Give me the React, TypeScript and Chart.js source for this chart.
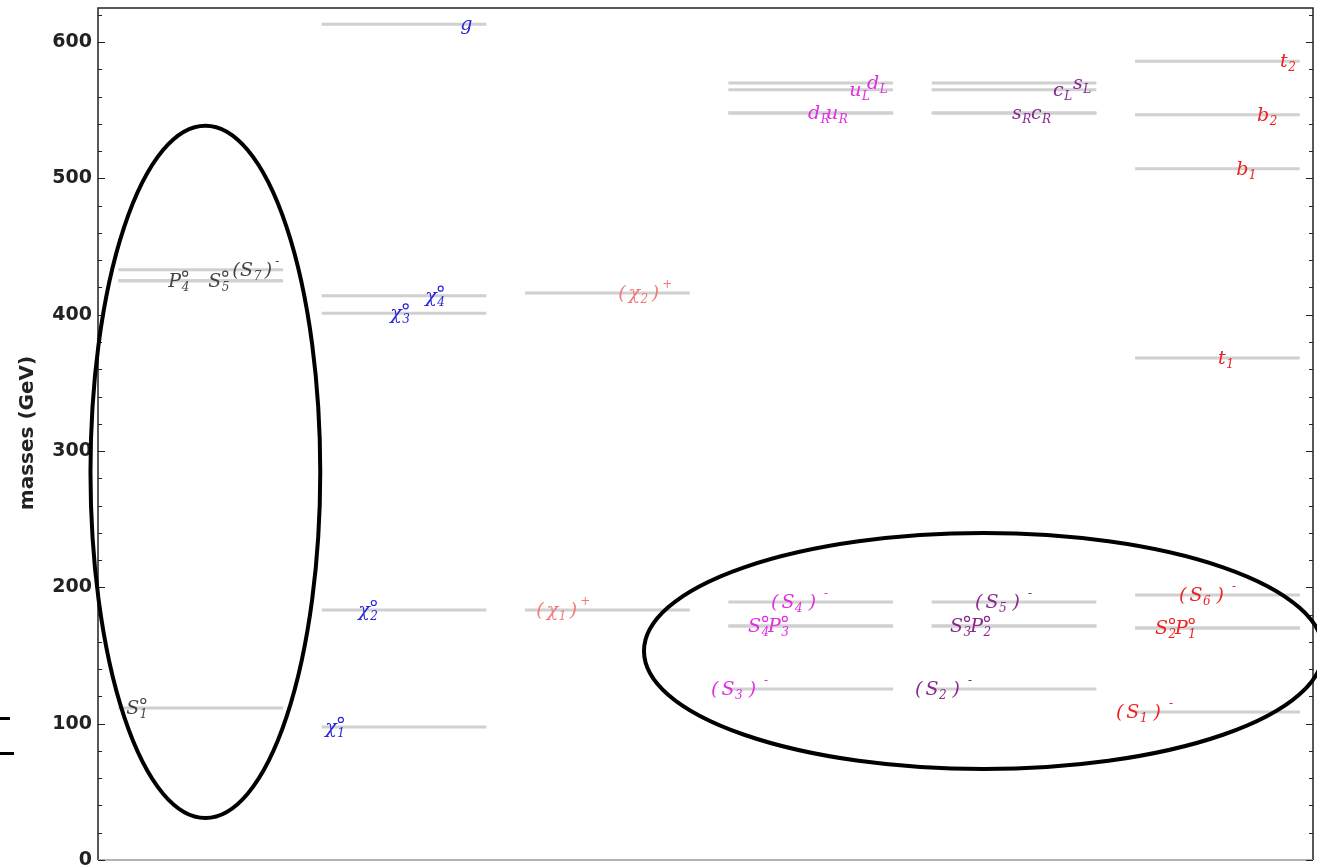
import { useEffect, useRef } from "react";
import { Chart, registerables } from "chart.js";

Chart.register(...registerables);

// ---- data (masses in GeV) ----
// column 0: neutral / charged scalars (gray)
const scalarMasses = [433, 425, 425, 111.5];
const scalarLabels = ["(S_7~)~^-", "P_4^o", "S_5^o", "S_1^o"];
// column 1: gluino + neutralinos (blue)
const neutralinoMasses = [613, 414, 401, 183.4, 97.6];
const neutralinoLabels = ["g", "χ_4^o", "χ_3^o", "χ_2^o", "χ_1^o"];
// column 2: charginos (light red)
const charginoMasses = [416, 183.4];
const charginoLabels = ["(~χ_2~)~^+", "(~χ_1~)~^+"];
// column 3: first generation squarks + scalars (magenta)
const firstGenMasses = [570, 565, 548, 548, 189.3, 171.7, 171.7, 125.5];
const firstGenLabels = ["d_L", "u_L", "d_R", "u_R", "(~S_4~~)~~~^-", "S_4^o", "P_3^o", "(~S_3~~)~~~^-"];
// column 4: second generation squarks + scalars (purple)
const secondGenMasses = [570, 565, 548, 548, 189.3, 171.7, 171.7, 125.5];
const secondGenLabels = ["s_L", "c_L", "s_R", "c_R", "(~S_5~~)~~~^-", "S_3^o", "P_2^o", "(~S_2~~)~~~^-"];
// column 5: third generation squarks + scalars (red)
const thirdGenMasses = [586, 546.6, 507, 368.3, 194.4, 170.2, 170.2, 108.6];
const thirdGenLabels = ["t_2", "b_2", "b_1", "t_1", "(~S_6~~)~~~^-", "S_2^o", "P_1^o", "(~S_1~~)~~~^-"];

const yTickValues = [0, 100, 200, 300, 400, 500, 600];

// ---- styling / placement (not data) ----
const scalarLabelPos = [0.66, 0.346, 0.542, 0.139];
const neutralinoLabelPos = [0.781, 0.609, 0.437, 0.28, 0.118];
const charginoLabelPos = [0.558, 0.155];
const firstGenLabelPos = [0.782, 0.694, 0.492, 0.58, 0.31, 0.197, 0.295, 0.015];
const secondGenLabelPos = [0.795, 0.697, 0.495, 0.588, 0.313, 0.19, 0.289, 0.018];
const thirdGenLabelPos = [0.813, 0.7, 0.597, 0.508, 0.316, 0.198, 0.296, 0.006];

const columns = [
  { masses: scalarMasses, labels: scalarLabels, pos: scalarLabelPos, color: "#444444" },
  { masses: neutralinoMasses, labels: neutralinoLabels, pos: neutralinoLabelPos, color: "#2626dd" },
  { masses: charginoMasses, labels: charginoLabels, pos: charginoLabelPos, color: "#f07a7a" },
  { masses: firstGenMasses, labels: firstGenLabels, pos: firstGenLabelPos, color: "#e02ee0" },
  { masses: secondGenMasses, labels: secondGenLabels, pos: secondGenLabelPos, color: "#88288e" },
  { masses: thirdGenMasses, labels: thirdGenLabels, pos: thirdGenLabelPos, color: "#ee2020" },
];

const LINE_START = 0.1;
const LINE_END = 0.91;
const X_MAX = 5.975;
const Y_MAX = 625;

// annotation ellipses (centre / radii in axis units)
const ellipseCx = [0.528, 4.355];
const ellipseCy = [284.7, 153.3];
const ellipseRx = [0.565, 1.67];
const ellipseRy = [253.9, 86.6];

function drawMath(ctx: CanvasRenderingContext2D, s: string, x: number, y: number, color: string) {
  const base = "italic 19px 'DejaVu Serif'";
  const small = "italic 12px 'DejaVu Serif'";
  ctx.save();
  ctx.fillStyle = color;
  ctx.strokeStyle = color;
  ctx.textBaseline = "alphabetic";
  ctx.textAlign = "left";
  const by = y + 6;
  let cx = x;
  let i = 0;
  while (i < s.length) {
    const c = s[i];
    if (c === "~") {
      cx += 2.5;
      i++;
      continue;
    }
    if (c === "_" || c === "^") {
      let sub = "";
      let sup = "";
      while (i < s.length && (s[i] === "_" || s[i] === "^")) {
        const kind = s[i];
        i++;
        let tok = "";
        if (s[i] === "{") {
          const j = s.indexOf("}", i);
          tok = s.slice(i + 1, j);
          i = j + 1;
        } else {
          tok = s[i];
          i++;
        }
        if (kind === "_") sub = tok;
        else sup = tok;
      }
      ctx.font = small;
      let w = 0;
      if (sub) {
        ctx.fillText(sub, cx, by + 4);
        w = Math.max(w, ctx.measureText(sub).width);
      }
      if (sup) {
        if (sup === "o") {
          ctx.lineWidth = 1.2;
          ctx.beginPath();
          ctx.arc(cx + 3.5, by - 13, 2.5, 0, Math.PI * 2);
          ctx.stroke();
          w = Math.max(w, 7);
        } else {
          ctx.fillText(sup, cx, by - 11);
          w = Math.max(w, ctx.measureText(sup).width);
        }
      }
      cx += w + 1;
      continue;
    }
    ctx.font = base;
    ctx.fillText(c, cx, by);
    cx += ctx.measureText(c).width + 0.5;
    i++;
  }
  ctx.restore();
}

const decorPlugin = {
  id: "decor",
  afterDatasetsDraw(chart: any) {
    const { ctx, chartArea: a, scales } = chart;
    const xs = scales.x;
    const ys = scales.y;

    // labels
    columns.forEach((col, ci) => {
      col.masses.forEach((m, k) => {
        drawMath(ctx, col.labels[k], xs.getPixelForValue(ci + col.pos[k]), ys.getPixelForValue(m), col.color);
      });
    });

    ctx.save();
    // frame
    ctx.strokeStyle = "#222";
    ctx.lineWidth = 1.5;
    ctx.beginPath();
    ctx.moveTo(a.left, a.bottom);
    ctx.lineTo(a.left, a.top);
    ctx.lineTo(a.right, a.top);
    ctx.lineTo(a.right, a.bottom);
    ctx.stroke();
    ctx.strokeStyle = "#999";
    ctx.beginPath();
    ctx.moveTo(a.left, a.bottom);
    ctx.lineTo(a.right, a.bottom);
    ctx.stroke();

    // inward ticks, left and right
    ctx.strokeStyle = "#222";
    ctx.lineWidth = 1.2;
    for (let v = 0; v <= 620; v += 20) {
      const major = v % 100 === 0;
      const len = major ? 7 : 4;
      const yy = Math.round(ys.getPixelForValue(v)) + 0.5;
      ctx.beginPath();
      ctx.moveTo(a.left, yy);
      ctx.lineTo(a.left + len, yy);
      ctx.moveTo(a.right, yy);
      ctx.lineTo(a.right - len, yy);
      ctx.stroke();
    }

    // ellipses
    ctx.strokeStyle = "#000";
    ctx.lineWidth = 4;
    const pxPerX = xs.getPixelForValue(1) - xs.getPixelForValue(0);
    const pxPerY = ys.getPixelForValue(0) - ys.getPixelForValue(1);
    for (let e = 0; e < ellipseCx.length; e++) {
      ctx.beginPath();
      ctx.ellipse(
        xs.getPixelForValue(ellipseCx[e]),
        ys.getPixelForValue(ellipseCy[e]),
        ellipseRx[e] * pxPerX,
        ellipseRy[e] * pxPerY,
        0,
        0,
        Math.PI * 2
      );
      ctx.stroke();
    }

    // axis title
    ctx.fillStyle = "#222";
    ctx.font = "bold 20px 'DejaVu Sans'";
    ctx.textAlign = "center";
    ctx.textBaseline = "middle";
    ctx.translate(28, 433);
    ctx.rotate(-Math.PI / 2);
    ctx.fillText("masses (GeV)", 0, 0);
    ctx.restore();

    // stray marks at left edge
    ctx.save();
    ctx.fillStyle = "#000";
    ctx.fillRect(0, 717, 10, 3);
    ctx.fillRect(0, 752, 14, 3);
    ctx.restore();
  },
};

export default function App() {
  const canvasRef = useRef<HTMLCanvasElement | null>(null);

  useEffect(() => {
    if (!canvasRef.current) return;
    const datasets: any[] = [];
    columns.forEach((col, ci) => {
      col.masses.forEach((m) => {
        datasets.push({
          data: [
            { x: ci + LINE_START, y: m },
            { x: ci + LINE_END, y: m },
          ],
          showLine: true,
          borderColor: "#d0d0d0",
          borderWidth: 3,
          pointRadius: 0,
          pointHoverRadius: 0,
        });
      });
    });

    const chart = new Chart(canvasRef.current, {
      type: "scatter",
      data: { datasets },
      options: {
        animation: false,
        responsive: true,
        maintainAspectRatio: false,
        layout: { padding: { top: 8, right: 4, bottom: 6, left: 0 } },
        plugins: { legend: { display: false }, tooltip: { enabled: false } },
        scales: {
          x: { type: "linear", display: false, min: 0, max: X_MAX },
          y: {
            type: "linear",
            min: 0,
            max: Y_MAX,
            grid: { display: false, drawTicks: false },
            border: { display: false },
            afterBuildTicks: (scale: any) => {
              scale.ticks = yTickValues.map((v) => ({ value: v }));
            },
            afterFit: (scale: any) => {
              scale.width = 98;
              scale.paddingTop = 0;
              scale.paddingBottom = 0;
            },
            ticks: {
              padding: 6,
              color: "#222",
              font: { family: "'DejaVu Sans'", weight: "bold", size: 19 },
            },
          },
        },
      },
      plugins: [decorPlugin],
    });
    return () => chart.destroy();
  }, []);

  return (
    <div style={{ position: "fixed", left: 0, top: 0, width: 1317, height: 866, background: "#fff" }}>
      <canvas ref={canvasRef} />
    </div>
  );
}
